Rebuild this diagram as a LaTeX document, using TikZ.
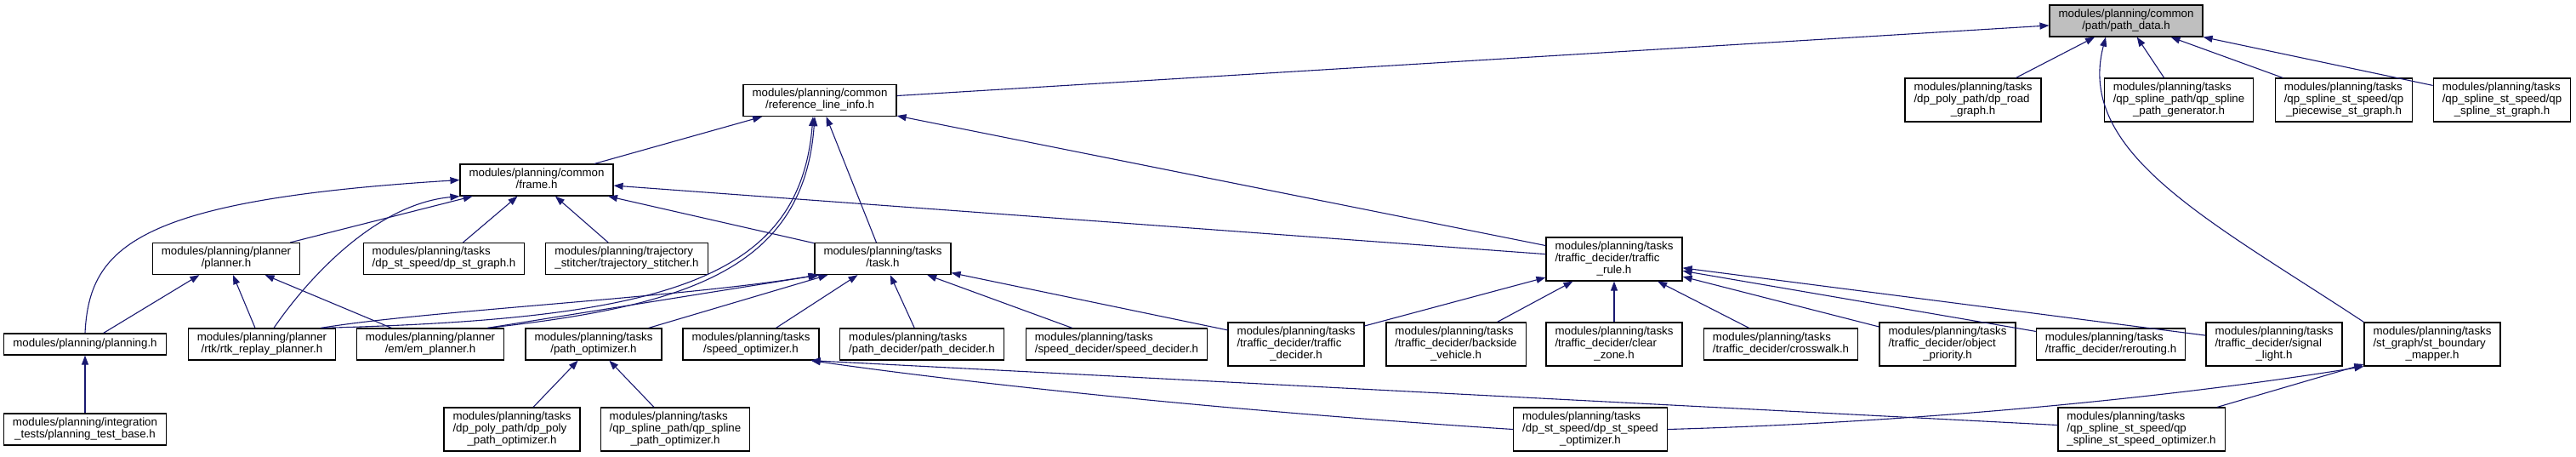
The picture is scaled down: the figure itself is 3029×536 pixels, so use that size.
\documentclass[tikz,border=0pt]{standalone}
\usepackage{fontspec}
\setmainfont{Liberation Sans}
\usepackage{xcolor}
\usepackage{tikz}
\usetikzlibrary{arrows.meta}
\definecolor{EdgeBlue}{HTML}{191970}
\definecolor{NodeGray}{HTML}{BFBFBF}
% label: all lines left, last line centred
\newcommand{\dxl}[2]{\begin{tabular}{@{}l@{}}#1\\\multicolumn{1}{@{}c@{}}{#2}\end{tabular}}
\begin{document}
\begin{tikzpicture}[x=1pt,y=-1pt,
f/.style={draw=black,line width=1.2pt,fill=white,inner xsep=10.5pt,inner ysep=4.5pt,font=\fontsize{13.3}{14}\selectfont},
i/.style={-{Triangle[length=11pt,width=8pt]},line width=1.1pt,draw=EdgeBlue}]
\useasboundingbox (0,0) rectangle (3029,536);
% top rows
\node[f,fill=NodeGray] (pd) at (2500,24.5) {\dxl{modules/planning/common}{/path/path\_data.h}};
\node[f] (rli) at (964,118) {\dxl{modules/planning/common}{/reference\_line\_info.h}};
\node[f] (drg) at (2320,117.5) {\dxl{modules/planning/tasks\\/dp\_poly\_path/dp\_road}{\_graph.h}};
\node[f] (qspg) at (2562,117.5) {\dxl{modules/planning/tasks\\/qp\_spline\_path/qp\_spline}{\_path\_generator.h}};
\node[f] (qpsg) at (2756,117.5) {\dxl{modules/planning/tasks\\/qp\_spline\_st\_speed/qp}{\_piecewise\_st\_graph.h}};
\node[f] (qssg) at (2942,117.5) {\dxl{modules/planning/tasks\\/qp\_spline\_st\_speed/qp}{\_spline\_st\_graph.h}};
\node[f] (frm) at (631,211.5) {\dxl{modules/planning/common}{/frame.h}};
\node[f] (plr) at (266,304) {\dxl{modules/planning/planner}{/planner.h}};
\node[f] (dsg) at (522,304) {\dxl{modules/planning/tasks}{/dp\_st\_speed/dp\_st\_graph.h}};
\node[f] (tst) at (737,304) {\dxl{modules/planning/trajectory}{\_stitcher/trajectory\_stitcher.h}};
\node[f] (tsk) at (1038,304) {\dxl{modules/planning/tasks}{/task.h}};
\node[f] (trl) at (1898,304.5) {\dxl{modules/planning/tasks\\/traffic\_decider/traffic}{\_rule.h}};
% second to last row
\node[f,minimum height=25pt] (png) at (100,404.5) {\strut modules/planning/planning.h};
\node[f] (rtk) at (308,404.5) {\dxl{modules/planning/planner}{/rtk/rtk\_replay\_planner.h}};
\node[f] (emp) at (506,404.5) {\dxl{modules/planning/planner}{/em/em\_planner.h}};
\node[f] (pop) at (698,404.5) {\dxl{modules/planning/tasks}{/path\_optimizer.h}};
\node[f] (sop) at (883,404.5) {\dxl{modules/planning/tasks}{/speed\_optimizer.h}};
\node[f] (pdc) at (1084,404.5) {\dxl{modules/planning/tasks}{/path\_decider/path\_decider.h}};
\node[f] (sdc) at (1313,404.5) {\dxl{modules/planning/tasks}{/speed\_decider/speed\_decider.h}};
\node[f] (tdc) at (1524,404.5) {\dxl{modules/planning/tasks\\/traffic\_decider/traffic}{\_decider.h}};
\node[f] (bsv) at (1712,404.5) {\dxl{modules/planning/tasks\\/traffic\_decider/backside}{\_vehicle.h}};
\node[f] (clz) at (1898,404.5) {\dxl{modules/planning/tasks\\/traffic\_decider/clear}{\_zone.h}};
\node[f] (cwk) at (2094,404.5) {\dxl{modules/planning/tasks}{/traffic\_decider/crosswalk.h}};
\node[f] (obp) at (2290,404.5) {\dxl{modules/planning/tasks\\/traffic\_decider/object}{\_priority.h}};
\node[f] (rrt) at (2482,404.5) {\dxl{modules/planning/tasks}{/traffic\_decider/rerouting.h}};
\node[f] (sgl) at (2674,404.5) {\dxl{modules/planning/tasks\\/traffic\_decider/signal}{\_light.h}};
\node[f] (sbm) at (2860,404.5) {\dxl{modules/planning/tasks\\/st\_graph/st\_boundary}{\_mapper.h}};
% bottom row
\node[f] (ptb) at (100,504.5) {\dxl{modules/planning/integration}{\_tests/planning\_test\_base.h}};
\node[f] (dppo) at (602,504.5) {\dxl{modules/planning/tasks\\/dp\_poly\_path/dp\_poly}{\_path\_optimizer.h}};
\node[f] (qspo) at (794,504.5) {\dxl{modules/planning/tasks\\/qp\_spline\_path/qp\_spline}{\_path\_optimizer.h}};
\node[f] (dsso) at (1870,504.5) {\dxl{modules/planning/tasks\\/dp\_st\_speed/dp\_st\_speed}{\_optimizer.h}};
\node[f] (qsso) at (2518,504.5) {\dxl{modules/planning/tasks\\/qp\_spline\_st\_speed/qp}{\_spline\_st\_speed\_optimizer.h}};
% includes
\draw[i] (rli)--(pd); \draw[i] (drg)--(pd); \draw[i] (qspg)--(pd); \draw[i] (qpsg)--(pd); \draw[i] (qssg)--(pd);
\draw[i] (sbm.north west) .. controls (2600,260) and (2440,180) .. ([xshift=-24pt]pd.south);
\draw[i] (frm)--(rli); \draw[i] (tsk)--(rli); \draw[i] (trl)--(rli);
\draw[i] ([xshift=-18pt]rtk.north east) .. controls (780,375) and (940,330) .. ([xshift=-8pt]rli.south);
\draw[i] ([xshift=-20pt]emp.north east) .. controls (800,360) and (945,320) .. ([xshift=-6pt]rli.south);
\draw[i] (png.north) .. controls (105,290) and (160,235) .. (frm.west);
\draw[i] (png)--(plr); \draw[i] (plr)--(frm);
\draw[i] ([xshift=14pt]rtk.north) .. controls (360,330) and (440,240) .. (frm.south west);
\draw[i] (rtk)--(plr); \draw[i] (emp)--(plr);
\draw[i] (dsg)--(frm); \draw[i] (tst)--(frm); \draw[i] (tsk)--(frm); \draw[i] (trl)--(frm);
\draw[i] (ptb)--(png);
\draw[i] ([xshift=-18pt]rtk.north east) .. controls (500,365) and (800,350) .. ([xshift=4pt]tsk.south west);
\draw[i] ([xshift=-20pt]emp.north east)--([xshift=6pt]tsk.south west);
\draw[i] (pop)--(tsk); \draw[i] (sop)--(tsk); \draw[i] (pdc)--(tsk); \draw[i] (sdc)--(tsk); \draw[i] (tdc)--(tsk);
\draw[i] (tdc)--(trl); \draw[i] (bsv)--(trl); \draw[i] (clz)--(trl); \draw[i] (cwk)--(trl);
\draw[i] (obp)--(trl); \draw[i] (rrt)--(trl); \draw[i] (sgl)--(trl);
\draw[i] (dppo)--(pop); \draw[i] (qspo)--(pop);
\draw[i] (dsso.west) .. controls (1400,480) and (1100,445) .. ([xshift=-10pt]sop.south east);
\draw[i] (qsso)--([xshift=-10pt]sop.south east);
\draw[i] (dsso.east) .. controls (2300,495) and (2600,460) .. (sbm.south west);
\draw[i] (qsso)--(sbm);
\end{tikzpicture}
\end{document}
